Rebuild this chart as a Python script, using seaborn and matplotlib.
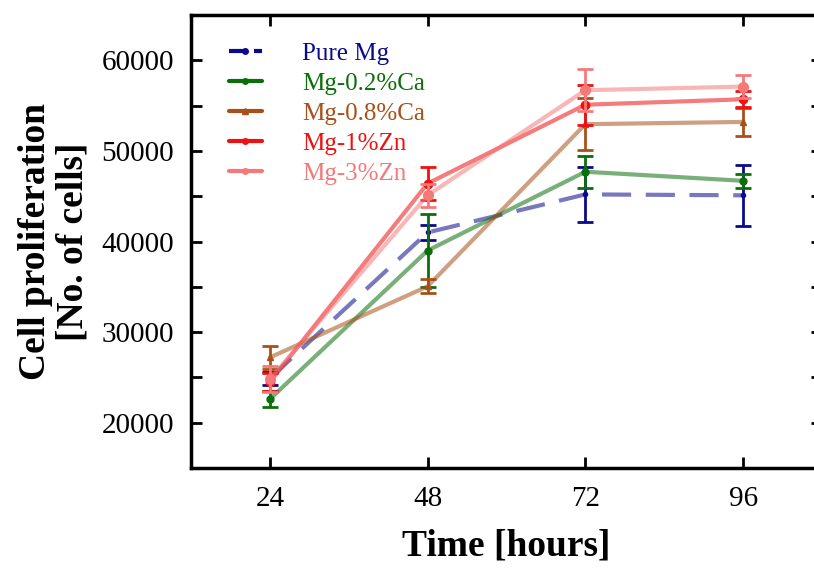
import pandas as pd
import matplotlib.pyplot as plt
import seaborn as sns
from matplotlib.lines import Line2D
from matplotlib.ticker import MultipleLocator

sns.set_style("ticks")
plt.rcParams['font.family'] = ['Liberation Serif', 'DejaVu Serif']
plt.rcParams.update({'axes.edgecolor': 'black', 'xtick.color': 'black',
                     'ytick.color': 'black', 'text.color': 'black',
                     'axes.labelcolor': 'black'})

hours = [24, 48, 72, 96]
series = ["Pure Mg", "Mg-0.2%Ca", "Mg-0.8%Ca", "Mg-1%Zn", "Mg-3%Zn"]
pure_mg = [24900, 41000, 45200, 45100]
pure_mg_err = [700, 800, 3000, 3400]
ca02 = [22600, 39000, 47700, 46700]
ca02_err = [850, 4000, 1750, 800]
ca08 = [27200, 35050, 52950, 53200]
ca08_err = [1300, 760, 2900, 1500]
zn1 = [24500, 46400, 55100, 55700]
zn1_err = [1000, 1800, 2200, 900]
zn3 = [24800, 45100, 56700, 57100]
zn3_err = [1450, 1250, 2300, 1250]

values = [pure_mg, ca02, ca08, zn1, zn3]
errors = [pure_mg_err, ca02_err, ca08_err, zn1_err, zn3_err]
colors = ["#0a0a8c", "#0b6e0b", "#a8501a", "#ee1111", "#f47a7a"]
markers = ["o", "o", "^", "o", "o"]
msizes = [3, 5, 5, 6, 7]

fig = plt.figure(figsize=(8.14, 5.69), dpi=100)
ax = fig.add_axes([0.2346, 0.1775, 0.7752, 0.7961])

for name, vals, errs, col, mk, ms in zip(series, values, errors, colors, markers, msizes):
    df = pd.DataFrame({'time': hours, 'cells': vals})
    dashed = name == "Pure Mg"
    sns.lineplot(x='time', y='cells', data=df, ax=ax, color=col, alpha=0.55,
                 linewidth=3, legend=False,
                 linestyle=(0, (7, 3.5)) if dashed else '-')
    ax.errorbar(hours, vals, yerr=errs, fmt='none', ecolor=col, elinewidth=2,
                capsize=5.5, capthick=2)
    ax.plot(hours, vals, linestyle='none', marker=mk, markersize=ms, color=col)

ax.set_xlim(12, 108)
ax.set_ylim(15000, 65000)
ax.set_xticks(hours)
ax.yaxis.set_major_locator(MultipleLocator(10000))
ax.yaxis.set_minor_locator(MultipleLocator(5000))
ax.tick_params(which='both', direction='in', top=True, right=True, width=2,
               labelsize=21)
ax.tick_params(which='major', length=8)
ax.tick_params(which='minor', length=8)
ax.tick_params(axis='x', pad=13)
ax.tick_params(axis='y', pad=12)
for s in ax.spines.values():
    s.set_linewidth(2.5)

ax.set_xlabel("Time [hours]", fontsize=27, fontweight='bold', labelpad=12)
ax.set_ylabel("Cell proliferation\n[No. of cells]", fontsize=27,
              fontweight='bold', labelpad=8, linespacing=1.08)

handles = [Line2D([0], [0], color=c, linewidth=3, marker=m, markersize=4,
                  linestyle=(0, (4, 2)) if n == "Pure Mg" else '-')
           for n, c, m in zip(series, colors, markers)]
leg = ax.legend(handles, series, loc='upper left', frameon=False, fontsize=18,
                handlelength=1.3, handletextpad=1.6, labelspacing=0.3,
                bbox_to_anchor=(0.025, 0.99))
for txt, c in zip(leg.get_texts(), colors):
    txt.set_color(c)

fig.savefig("out.png", dpi=100)
